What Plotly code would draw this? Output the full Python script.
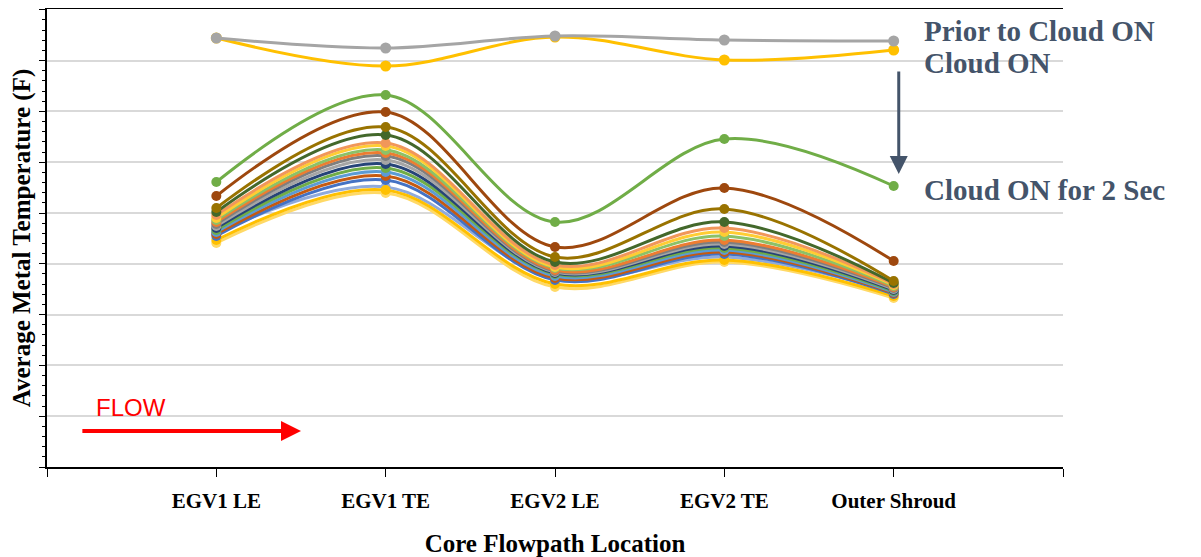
import plotly.graph_objects as go

locations = ["EGV1 LE", "EGV1 TE", "EGV2 LE", "EGV2 TE", "Outer Shroud"]
x_pos = [1, 2, 3, 4, 5]

# temperature readings (relative units)
prior = [429, 419, 431, 427, 426]
cloud_on = [429, 401, 430, 407, 417]
series = [
    ("#70AD47", [285, 372, 245, 328, 281]),
    ("#9E480E", [271, 355, 220, 279, 206]),
    ("#997300", [259, 340, 210, 258, 186]),
    ("#43682B", [255, 332, 205, 245, 184]),
    ("#F1975A", [252, 324, 202, 239, 183]),
    ("#FFCD33", [249, 321, 200, 235, 182]),
    ("#8CC168", [247, 317, 199, 231, 181]),
    ("#ED7D31", [245, 314, 197, 227, 180]),
    ("#7F7F7F", [243, 311, 196, 225, 179]),
    ("#A5A5A5", [241, 307, 195, 223, 178]),
    ("#264478", [239, 303, 194, 221, 177]),
    ("#70AD47", [237, 299, 193, 219, 176]),
    ("#5B9BD5", [235, 295, 191, 217, 175]),
    ("#C55A11", [233, 291, 189, 215, 174]),
    ("#4472C4", [231, 287, 187, 213, 173]),
    ("#FFC000", [227, 277, 183, 207, 171]),
    ("#FFD966", [224, 274, 180, 205, 169]),
    ("#8FAADC", [234, 280, 189, 210, 175]),
]

SERIF = "Liberation Serif, Times New Roman, serif"
SLATE = "#44546A"

fig = go.Figure()
for color, vals in series[::-1]:
    fig.add_trace(go.Scatter(
        x=x_pos, y=vals, mode="lines+markers",
        line={"color": color, "width": 3, "shape": "spline"},
        marker={"color": color, "size": 10},
    ))
fig.add_trace(go.Scatter(
    x=x_pos, y=cloud_on, mode="lines+markers",
    line={"color": "#FFC000", "width": 3, "shape": "spline"},
    marker={"color": "#FFC000", "size": 11},
))
fig.add_trace(go.Scatter(
    x=x_pos, y=prior, mode="lines+markers",
    line={"color": "#A5A5A5", "width": 3, "shape": "spline"},
    marker={"color": "#A5A5A5", "size": 11},
))

# page body adds 8px offset; margins compensate for it
fig.update_layout(
    width=1201, height=557,
    margin={"l": 39, "r": 146, "t": 1, "b": 98, "autoexpand": False},
    plot_bgcolor="white", paper_bgcolor="white",
    showlegend=False,
    font={"family": SERIF, "size": 21, "color": "black"},
    xaxis={
        "range": [0, 6], "tickvals": [0, 1, 2, 3, 4, 5, 6],
        "ticktext": [""] + [f"<b>{t}</b>" for t in locations] + [""],
        "showgrid": False, "zeroline": False, "automargin": False,
        "showline": True, "linecolor": "black", "linewidth": 2, "mirror": True,
        "ticks": "outside", "ticklen": 8, "tickcolor": "black", "ticklabelstandoff": 6,
        "title": {"text": "<b>Core Flowpath Location</b>", "standoff": 22},
    },
    yaxis={
        "range": [0, 458], "dtick": 50.8, "tick0": 0, "automargin": False,
        "showticklabels": False, "gridcolor": "#D9D9D9", "gridwidth": 1.5,
        "zeroline": False, "showline": True, "linecolor": "black", "linewidth": 2,
        "ticks": "outside", "ticklen": 6, "tickcolor": "black",
        "minor": {"dtick": 10.16, "ticks": "outside", "ticklen": 3, "tickcolor": "black", "showgrid": False},
        "title": {"text": "<b>Average Metal Temperature (F)</b>", "standoff": 10},
    },
)

label_font = {"family": SERIF, "size": 29, "color": SLATE}
for yv, txt in [(436, "Prior to Cloud ON"), (404, "Cloud ON"), (277, "Cloud ON for 2 Sec")]:
    fig.add_annotation(x=5.17, y=yv, xref="x", yref="y", xanchor="left", yanchor="middle",
                       text=f"<b>{txt}</b>", showarrow=False, font=label_font)
# downward arrow
fig.add_annotation(x=5.03, y=293, ax=5.03, ay=397, xref="x", yref="y", axref="x", ayref="y",
                   text="", showarrow=True, arrowhead=2, arrowsize=1.2, arrowwidth=3, arrowcolor=SLATE)
# flow arrow
fig.add_annotation(x=1.5, y=36, ax=0.2, ay=36, xref="x", yref="y", axref="x", ayref="y",
                   text="", showarrow=True, arrowhead=2, arrowsize=1, arrowwidth=4, arrowcolor="#FF0000")
fig.add_annotation(x=0.28, y=60, xref="x", yref="y", xanchor="left", text="FLOW", showarrow=False,
                   font={"family": "Liberation Sans, Arial", "size": 24, "color": "#FF0000"})

fig.write_html("out.html")
